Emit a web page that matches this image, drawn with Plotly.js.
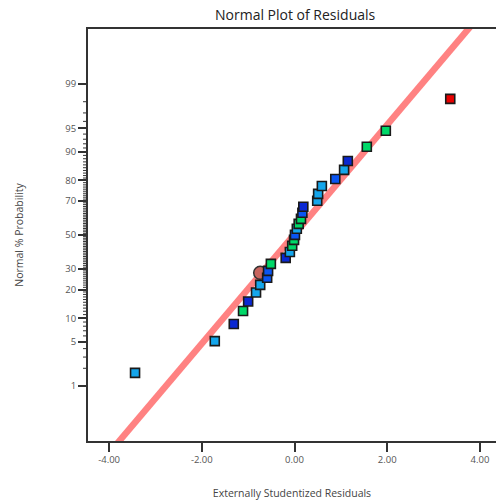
<!DOCTYPE html>
<html>
<head>
<meta charset="utf-8">
<script src="https://cdn.plot.ly/plotly-3.0.1.min.js"></script>
<style>
html,body{margin:0;padding:0;overflow:hidden;background:#fff;}
#chart{width:496px;height:504px;}
</style>
</head>
<body>
<div id="chart"></div>
<script>
// ---- data ----
const residuals = [-3.44, -1.72, -1.31, -1.11, -1.00, -0.83, -0.74, -0.59, -0.57, -0.51,
                   -0.19, -0.10, -0.05, -0.01, 0.01, 0.05, 0.09, 0.14, 0.17, 0.19,
                   0.49, 0.51, 0.59, 0.88, 1.07, 1.15, 1.56, 1.97, 3.36];
const probPct   = [1.68, 5.1, 8.5, 12.1, 15.3, 18.8, 22.1, 25.5, 29.0, 32.8,
                   36.2, 39.7, 43.4, 47.0, 50.1, 53.8, 56.8, 59.8, 63.4, 66.8,
                   70.1, 73.7, 77.5, 80.6, 84.2, 87.3, 91.3, 94.6, 98.2];
const colorGroup = ['c','c','d','g','d','c','c','b','b','g',
                    'd','c','g','g','b','c','g','g','b','d',
                    'c','c','c','b','c','d','g','g','r'];
const highlightResidual = [-0.74];
const highlightPct = [28.0];
const fitLineResidual = [-4.166, 4.136];
const fitLinePct = [0.0233, 99.9767];
const yTickPct = [1, 5, 10, 20, 30, 50, 70, 80, 90, 95, 99];
const yMinorPct = [2, 3, 4, 6, 7, 8, 9, 11, 12, 13, 14, 15, 16, 17, 18, 19,
                   21, 22, 23, 24, 25, 26, 27, 28, 29, 31, 32, 33, 34, 35, 36, 37, 38, 39,
                   40, 41, 42, 43, 44, 45, 46, 47, 48, 49, 51, 52, 53, 54, 55, 56, 57, 58, 59,
                   60, 61, 62, 63, 64, 65, 66, 67, 68, 69, 71, 72, 73, 74, 75, 76, 77, 78, 79,
                   81, 82, 83, 84, 85, 86, 87, 88, 89, 91, 92, 93, 94, 96, 97, 98];
const xTickVals = [-4, -2, 0, 2, 4];
const xTickText = ['-4.00', '-2.00', '0.00', '2.00', '4.00'];

// ---- helpers ----
function probit(p) {
  const a = [-3.969683028665376e+01, 2.209460984245205e+02, -2.759285104469687e+02,
             1.383577518672690e+02, -3.066479806614716e+01, 2.506628277459239e+00];
  const b = [-5.447609879822406e+01, 1.615858368580409e+02, -1.556989798598866e+02,
             6.680131188771972e+01, -1.328068155288572e+01];
  const c = [-7.784894002430293e-03, -3.223964580411365e-01, -2.400758277161838e+00,
             -2.549671010229528e+00, 4.374664141464968e+00, 2.938163982698783e+00];
  const d = [7.784695709041462e-03, 3.224671290700398e-01, 2.445134137142996e+00,
             3.754408661907416e+00];
  const pl = 0.02425, ph = 1 - pl;
  let q, r;
  if (p < pl) {
    q = Math.sqrt(-2 * Math.log(p));
    return (((((c[0]*q+c[1])*q+c[2])*q+c[3])*q+c[4])*q+c[5]) /
           ((((d[0]*q+d[1])*q+d[2])*q+d[3])*q+1);
  }
  if (p <= ph) {
    q = p - 0.5; r = q * q;
    return (((((a[0]*r+a[1])*r+a[2])*r+a[3])*r+a[4])*r+a[5])*q /
           (((((b[0]*r+b[1])*r+b[2])*r+b[3])*r+b[4])*r+1);
  }
  q = Math.sqrt(-2 * Math.log(1 - p));
  return -(((((c[0]*q+c[1])*q+c[2])*q+c[3])*q+c[4])*q+c[5]) /
          ((((d[0]*q+d[1])*q+d[2])*q+d[3])*q+1);
}
const z = pct => probit(pct / 100);

const palette = { c: '#14a6ec', b: '#0a55f2', d: '#0a28d2', g: '#00d868', r: '#e80000' };
const yRange = [-3.174, 3.174];
const plotW = 496 - 88;

const traces = [
  {
    x: fitLineResidual, y: fitLinePct.map(z),
    mode: 'lines', type: 'scatter', hoverinfo: 'skip',
    line: { color: '#ff8282', width: 6.5 }
  },
  {
    x: highlightResidual, y: highlightPct.map(z),
    mode: 'markers', type: 'scatter',
    marker: { symbol: 'circle', size: 13, color: '#c8645e', line: { color: '#333', width: 1.5 } }
  },
  {
    x: residuals, y: probPct.map(z),
    mode: 'markers', type: 'scatter',
    marker: { symbol: 'square', size: 9, color: colorGroup.map(g => palette[g]),
              line: { color: '#1a1a1a', width: 1.6 } }
  }
];

// minor ticks on the probability axis, placed through the y scale
const minorShapes = yMinorPct.map(p => ({
  type: 'line', xref: 'paper', yref: 'y',
  x0: -5 / plotW, x1: -1 / plotW, y0: z(p), y1: z(p),
  line: { color: '#333', width: 1 }, layer: 'above'
}));

const layout = {
  width: 496, height: 504,
  margin: { l: 88, r: 0, t: 29, b: 63 },
  paper_bgcolor: '#fff', plot_bgcolor: '#fff',
  showlegend: false,
  font: { family: 'Open Sans, sans-serif', color: '#444' },
  title: {
    text: 'Normal Plot of Residuals',
    font: { size: 14, color: '#222', family: 'Open Sans, sans-serif' },
    xref: 'container', x: 0.595, xanchor: 'center',
    yref: 'container', y: 1 - 15 / 504, yanchor: 'middle'
  },
  xaxis: {
    range: [-4.455, 4.347],
    tickmode: 'array', tickvals: xTickVals, ticktext: xTickText,
    ticks: 'outside', ticklen: 9, tickwidth: 2, tickcolor: '#333',
    showline: true, linecolor: '#333', linewidth: 2, mirror: true,
    showgrid: false, zeroline: false,
    tickfont: { size: 9.5, color: '#555' },
    title: { text: 'Externally Studentized Residuals', font: { size: 10.5, color: '#444' }, standoff: 24 }
  },
  yaxis: {
    range: yRange,
    tickmode: 'array', tickvals: yTickPct.map(z), ticktext: yTickPct.map(String),
    ticks: 'outside', ticklen: 8, tickwidth: 2, tickcolor: '#333',
    showline: true, linecolor: '#333', linewidth: 2, mirror: false,
    showgrid: false, zeroline: false,
    tickfont: { size: 9.5, color: '#555' },
    title: { text: 'Normal % Probability', font: { size: 10.5, color: '#444' }, standoff: 40 }
  },
  shapes: minorShapes
};

Plotly.newPlot('chart', traces, layout, { staticPlot: true, displayModeBar: false });
</script>
</body>
</html>
